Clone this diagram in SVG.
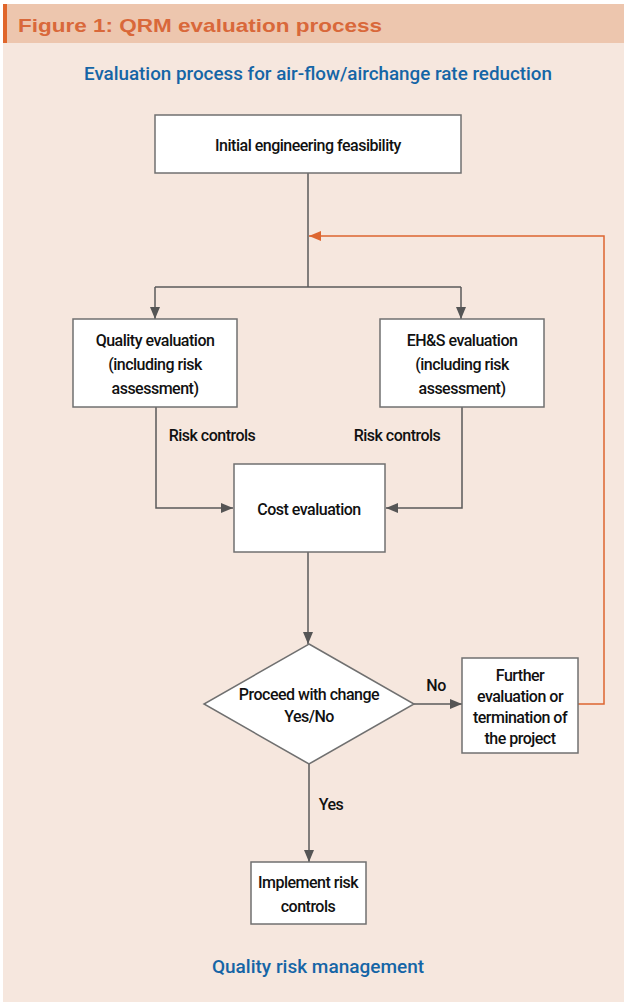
<svg xmlns="http://www.w3.org/2000/svg" width="624" height="1002" viewBox="0 0 624 1002">
<defs>
<marker id="ag" viewBox="0 0 12 10" refX="12" refY="5" markerWidth="12" markerHeight="10" markerUnits="userSpaceOnUse" orient="auto"><path d="M0,0 L12,5 L0,10 z" fill="#555"/></marker>
<marker id="ao" viewBox="0 0 12 10" refX="12" refY="5" markerWidth="12" markerHeight="10" markerUnits="userSpaceOnUse" orient="auto"><path d="M0,0 L12,5 L0,10 z" fill="#DD6630"/></marker>
<style>
.box{fill:#fff;stroke:#707070;stroke-width:1.5}
.t{font-family:Roboto,"Liberation Sans",Arial,sans-serif;font-weight:500;font-size:16px;fill:#111;text-anchor:middle;letter-spacing:-0.5px}
.c{fill:none;stroke:#5a5a5a;stroke-width:1.5}
.o{fill:none;stroke:#DD6630;stroke-width:1.5}
.blue{font-family:Roboto,"Liberation Sans",Arial,sans-serif;font-weight:500;font-size:19px;fill:#1565A6;text-anchor:middle}
</style>
</defs>
<rect x="0" y="0" width="624" height="1002" fill="#fff"/>
<rect x="3" y="4" width="621" height="998" fill="#F6E7DE"/>
<rect x="3" y="4" width="621" height="39" fill="#EDC6AE"/>
<rect x="3" y="4" width="4" height="39" fill="#E0662B"/>
<text x="18" y="32" font-family="Liberation Sans,Arial,sans-serif" font-weight="bold" font-size="19" fill="#D9683A" textLength="364" lengthAdjust="spacingAndGlyphs">Figure 1: QRM evaluation process</text>
<text class="blue" x="318" y="80" textLength="468" lengthAdjust="spacingAndGlyphs">Evaluation process for air-flow/airchange rate reduction</text>

<g id="connectors">
<path class="c" d="M308,173 V287"/>
<path class="c" d="M155,287 H461"/>
<path class="c" d="M155,287 V319" marker-end="url(#ag)"/>
<path class="c" d="M461,287 V319" marker-end="url(#ag)"/>
<path class="c" d="M156,407 V508 H233" marker-end="url(#ag)"/>
<path class="c" d="M462,407 V508 H386" marker-end="url(#ag)"/>
<path class="c" d="M308,552 V644" marker-end="url(#ag)"/>
<path class="c" d="M414,704 H462" marker-end="url(#ag)"/>
<path class="c" d="M309,764 V862" marker-end="url(#ag)"/>
<path class="o" d="M578,704 H604 V236 H309" marker-end="url(#ao)"/>
<text class="t" x="212" y="441">Risk controls</text>
<text class="t" x="397" y="441">Risk controls</text>
<text class="t" x="436" y="691">No</text>
<text class="t" x="331" y="810">Yes</text>
</g>

<g id="initial">
<rect class="box" x="155" y="115" width="306" height="58"/>
<text class="t" x="308" y="151">Initial engineering feasibility</text>
</g>
<g id="quality">
<rect class="box" x="73" y="319" width="164" height="88"/>
<text class="t" x="155" y="346">Quality evaluation</text>
<text class="t" x="155" y="370">(including risk</text>
<text class="t" x="155" y="394">assessment)</text>
</g>
<g id="ehs">
<rect class="box" x="380" y="319" width="164" height="88"/>
<text class="t" x="462" y="346">EH&amp;S evaluation</text>
<text class="t" x="462" y="370">(including risk</text>
<text class="t" x="462" y="394">assessment)</text>
</g>
<g id="cost">
<rect class="box" x="234" y="464" width="151" height="88"/>
<text class="t" x="309" y="515">Cost evaluation</text>
</g>
<g id="decision">
<path class="box" d="M309,644 L414,704 L309,764 L204,704 z"/>
<text class="t" x="309" y="700">Proceed with change</text>
<text class="t" x="309" y="722">Yes/No</text>
</g>
<g id="further">
<rect class="box" x="462" y="658" width="116" height="95"/>
<text class="t" x="520" y="681">Further</text>
<text class="t" x="520" y="702">evaluation or</text>
<text class="t" x="520" y="723">termination of</text>
<text class="t" x="520" y="744">the project</text>
</g>
<g id="implement">
<rect class="box" x="251" y="862" width="115" height="62"/>
<text class="t" x="308" y="888">Implement risk</text>
<text class="t" x="308" y="912">controls</text>
</g>
<text class="blue" x="318" y="973">Quality risk management</text>
</svg>
